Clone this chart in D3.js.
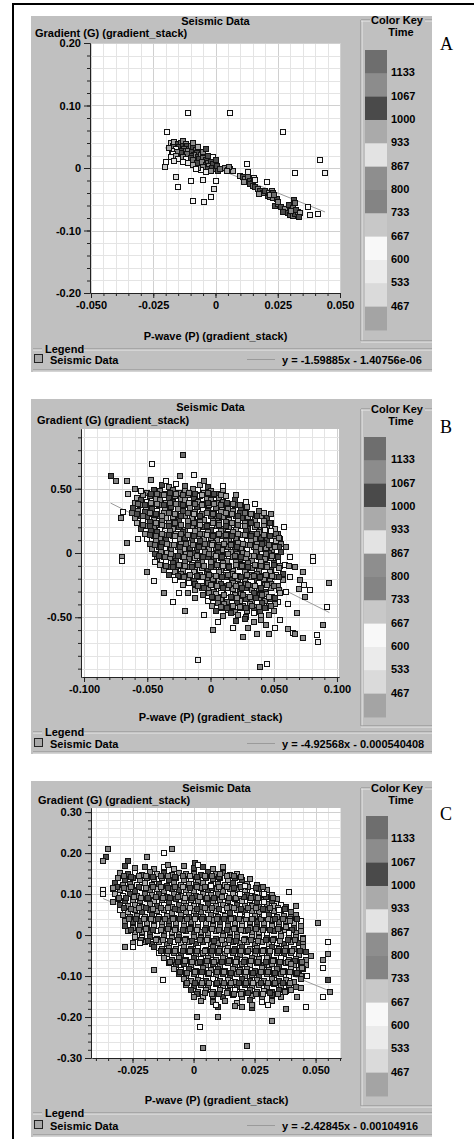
<!DOCTYPE html>
<html>
<head>
<meta charset="utf-8">
<script src="https://cdn.jsdelivr.net/npm/d3@7"></script>
<style>
  html, body { margin: 0; padding: 0; background: #fff; }
  svg { display: block; }
  text { font-family: "Liberation Sans", Arial, sans-serif; font-weight: bold; font-size: 11px; fill: #000; }
  .letter { font-family: "Liberation Serif", "Times New Roman", serif; font-weight: normal; font-size: 18px; }
</style>
</head>
<body>
<svg id="chart" width="476" height="1139"></svg>
<script>
// ── Colour key (Time), top swatch to bottom swatch ───────────
const KEY_COLORS = ['#6e6e6e', '#8c8c8c', '#4a4a4a', '#aaaaaa', '#e3e3e3', '#8e8e8e',
                    '#848484', '#c8c8c8', '#f8f8f8', '#ebebeb', '#dadada', '#a4a4a4'];
const KEY_LABELS = ['1133', '1067', '1000', '933', '867', '800', '733', '667', '600', '533', '467'];

// ── Axis ticks ───────────────────────────────────────────────
const xTicksA = [-0.05, -0.025, 0, 0.025, 0.05];
const xLabelsA = ['-0.050', '-0.025', '0', '0.025', '0.050'];
const yTicksA = [-0.2, -0.1, 0, 0.1, 0.2];
const yLabelsA = ['-0.20', '-0.10', '0', '0.10', '0.20'];

const xTicksB = [-0.1, -0.05, 0, 0.05, 0.1];
const xLabelsB = ['-0.100', '-0.050', '0', '0.050', '0.100'];
const yTicksB = [-0.5, 0, 0.5];
const yLabelsB = ['-0.50', '0', '0.50'];

const xTicksC = [-0.025, 0, 0.025, 0.05];
const xLabelsC = ['-0.025', '0', '0.025', '0.050'];
const yTicksC = [-0.3, -0.2, -0.1, 0, 0.1, 0.2, 0.3];
const yLabelsC = ['-0.30', '-0.20', '-0.10', '0', '0.10', '0.20', '0.30'];

// ── Fitted lines [slope, intercept] ──────────────────────────
const fitA = [-1.59885, -1.40756e-06];
const fitB = [-4.92568, -0.000540408];
const fitC = [-2.42845, -0.00104916];
const eqA = 'y = -1.59885x - 1.40756e-06';
const eqB = 'y = -4.92568x - 0.000540408';
const eqC = 'y = -2.42845x - 0.00104916';

// ── Points: [P, G, key index]; A: P and G in 1e-3 ────────────
const pointsA = [
  [-18,40,7],[-17,36,0],[-16.5,42,3],[-15,38,2],[-14,40,0],[-13,43,6],[-14.5,34,2],[-16,30,8],[-17.5,28,4],[-18.5,32,3],
  [-13,36,2],[-12,39,5],[-11.5,35,2],[-12.5,31,0],[-14,28,2],[-15.5,25,6],[-17,22,8],[-18,18,9],[-16,19,3],[-13.5,24,2],
  [-12,27,0],[-10.5,31,2],[-10,36,6],[-9,33,2],[-11,28,5],[-9.5,26,2],[-8,29,0],[-7.5,24,2],[-8.5,21,6],[-10,20,2],
  [-11.5,22,0],[-13,18,5],[-12,14,8],[-10,16,2],[-9,12,0],[-7,17,2],[-6,21,5],[-6.5,14,2],[-5,16,0],[-4,12,2],
  [-5.5,9,6],[-7.5,8,2],[-9,5,3],[-4,5,2],[-3,8,0],[-2,10,2],[-2.5,3,5],[-1,6,2],[-1.5,0,2],[0,-2,0],
  [-3.5,-1,2],[-5,2,6],[-6,-3,8],[0.5,3,2],[1,-4,2],[2,-1,0],[-2,-5,5],[-4,-6,9],[-7,0,3],[-8,-2,8],
  [-11,8,4],[-13,10,8],[-15,14,9],[-16.5,11,4],[-3,20,2],[-5,26,6],[-7,33,3],[-9,40,5],[-4,30,2],[-1,18,8],[0,13,2],
  [4,0,5],[5,-3,3],[6,-1,5],[7,-4,3],[5.5,2,6],[4.5,-5,3],
  [10,-12,3],[11,-15,2],[12,-18,6],[13,-14,0],[14,-20,2],[11.5,-22,5],[15,-24,2],
  [14,-26,2],[15,-29,0],[16,-31,2],[17,-33,6],[18,-36,2],[19,-40,0],[17.5,-42,5],[20,-37,2],[21,-45,2],[22,-47,0],
  [23,-48,6],[21.5,-40,3],[24.5,-50,2],[22.5,-36,5],[23,-40,2],[22,-43,3],[23.5,-44,0],
  [24,-61,2],[25,-58,0],[26.5,-63,2],[28,-66,5],[29,-72,2],[30,-75,2],[31,-77,0],[32,-73,2],[33,-70,6],[29.5,-60,2],
  [31,-64,0],[32.5,-67,2],[30.5,-69,5],[27,-70,2],[34,-72,3],[33.5,-78,2],[25,-55,6],[31.5,-51,2],[32,-56,0],
  [-11,88,8],[6,88,8],[-19.5,58,8],[27,58,8],[42,13,8],[44,-8,9],[32,-8,8],[37,-62,8],[38,-75,9],[41,-74,8],
  [-16,-15,10],[-15,-31,8],[-10,-21,8],[-5,-19,9],[0,-21,8],[-0.6,-34,10],[-2,-46,8],[-9,-53,8],[-4.6,-54,9],
  [12.7,6,8],[13,-6,9],[20.7,-22,8],[15.5,-16,10],[16,-19,4],[-20,10,8],[-20.3,2,7]
];

// B: P in 1e-3, G in 1e-2
const pointsB = [
  [-38,53,2],[-33,51,5],[-27,54,8],[-20,52,0],[-14,50,6],[-8,53,3],[-2,51,2],
  [-50,47,1],[-45,49,2],[-40,48,6],[-35,46,6],[-30,49,0],[-25,47,1],[-20,48,5],[-15,46,2],[-10,49,8],[-5,47,3],[0,48,6],[5,46,2],[10,49,1],
  [-58,43,3],[-53,45,1],[-48,44,0],[-43,42,5],[-38,45,2],[-33,43,2],[-28,44,6],[-23,42,1],[-18,45,6],[-13,43,2],[-8,44,8],[-3,42,5],[2,45,0],[7,43,6],[12,44,3],
  [-60,39,5],[-55,41,2],[-50,40,8],[-45,38,0],[-40,41,6],[-35,39,3],[-30,40,2],[-25,38,2],[-20,41,5],[-15,39,1],[-10,40,1],[-5,38,2],[0,41,6],[5,39,6],[10,40,0],[15,38,8],[19,41,2],
  [-61,35,2],[-56,37,6],[-51,36,3],[-46,34,2],[-41,37,0],[-36,35,5],[-31,36,2],[-26,34,1],[-21,37,1],[-16,35,6],[-11,36,2],[-6,34,8],[-1,37,5],[4,35,0],[9,36,3],[14,34,6],[19,37,2],[24,35,2],[29,36,5],
  [-62,31,0],[-57,33,6],[-52,32,2],[-47,30,6],[-42,33,8],[-37,31,1],[-32,32,5],[-27,30,2],[-22,33,2],[-17,31,3],[-12,32,6],[-7,30,0],[-2,33,2],[3,31,1],[8,32,5],[13,30,1],[18,33,6],[23,31,2],[28,32,8],[33,30,6],[38,33,0],
  [-60,27,6],[-55,29,2],[-50,28,2],[-45,26,5],[-40,29,0],[-35,27,3],[-30,28,1],[-25,26,2],[-20,29,6],[-15,27,1],[-10,28,8],[-5,26,5],[0,29,2],[5,27,0],[10,28,6],[15,26,3],[20,29,2],[25,27,2],[30,28,5],[35,26,1],[40,29,6],[45,27,2],
  [-58,23,3],[-53,25,8],[-48,24,2],[-43,22,6],[-38,25,0],[-33,23,5],[-28,24,2],[-23,22,2],[-18,25,6],[-13,23,1],[-8,24,6],[-3,22,2],[2,25,1],[7,23,5],[12,24,0],[17,22,8],[22,25,3],[27,23,6],[32,24,2],[37,22,2],[42,25,5],[48,23,1],
  [-55,19,2],[-50,21,6],[-45,20,0],[-40,18,8],[-35,21,3],[-30,19,5],[-25,20,2],[-20,18,1],[-15,21,1],[-10,19,6],[-5,20,2],[0,18,2],[5,21,6],[10,19,0],[15,20,6],[20,18,3],[25,21,8],[30,19,2],[35,20,5],[40,18,1],[45,21,6],[51,19,3],
  [-52,15,5],[-47,17,2],[-42,16,2],[-37,14,0],[-32,17,6],[-27,15,3],[-22,16,2],[-17,14,8],[-12,17,5],[-7,15,1],[-2,16,6],[3,14,2],[8,17,1],[13,15,0],[18,16,6],[23,14,6],[28,17,2],[33,15,2],[38,16,5],[43,14,3],[48,17,8],[53,15,0],
  [-50,11,8],[-45,13,3],[-40,12,6],[-35,10,2],[-30,13,0],[-25,11,5],[-20,12,2],[-15,10,2],[-10,13,6],[-5,11,1],[0,12,6],[5,10,1],[10,13,2],[15,11,5],[20,12,0],[25,10,8],[30,13,3],[35,11,6],[40,12,2],[45,10,2],[50,13,5],[55,11,1],
  [-48,7,0],[-43,9,6],[-38,8,2],[-33,6,5],[-28,9,8],[-23,7,1],[-18,8,3],[-13,6,6],[-8,9,2],[-3,7,2],[2,8,5],[7,6,0],[12,9,6],[17,7,2],[22,8,1],[27,6,6],[32,9,1],[37,7,5],[42,8,2],[47,6,8],[52,9,3],[56,7,6],
  [-46,3,6],[-41,5,2],[-36,4,8],[-31,2,0],[-26,5,5],[-21,3,3],[-16,4,2],[-11,2,2],[-6,5,6],[-1,3,1],[4,4,1],[9,2,5],[14,5,0],[19,3,2],[24,4,6],[29,2,8],[34,5,3],[39,3,5],[44,4,1],[49,2,6],[54,5,2],
  [-44,-1,2],[-39,1,6],[-34,0,3],[-29,-2,2],[-24,1,0],[-19,-1,5],[-14,0,2],[-9,-2,1],[-4,1,6],[1,-1,6],[6,0,2],[11,-2,8],[16,1,5],[21,-1,1],[26,0,6],[31,-2,3],[36,1,0],[41,-1,8],[46,0,2],[51,-2,5],[56,1,2],
  [-42,-5,5],[-37,-3,1],[-32,-4,6],[-27,-6,2],[-22,-3,8],[-17,-5,0],[-12,-4,3],[-7,-6,6],[-2,-3,2],[3,-5,2],[8,-4,5],[13,-6,1],[18,-3,6],[23,-5,2],[28,-4,1],[33,-6,6],[38,-3,0],[43,-5,6],[48,-4,3],[53,-6,8],
  [-40,-9,3],[-35,-7,8],[-30,-8,2],[-25,-10,6],[-20,-7,0],[-15,-9,5],[-10,-8,2],[-5,-10,2],[0,-7,6],[5,-9,1],[10,-8,6],[15,-10,2],[20,-7,1],[25,-9,5],[30,-8,0],[35,-10,8],[40,-7,3],[45,-9,6],[50,-8,2],[55,-10,5],
  [-37,-13,6],[-32,-11,2],[-27,-12,2],[-22,-14,5],[-17,-11,0],[-12,-13,3],[-7,-12,1],[-2,-14,2],[3,-11,6],[8,-13,1],[13,-12,8],[18,-14,5],[23,-11,2],[28,-13,6],[33,-12,0],[38,-14,6],[43,-11,2],[48,-13,2],[54,-12,5],
  [-33,-17,2],[-28,-15,5],[-23,-16,0],[-18,-18,8],[-13,-15,3],[-8,-17,6],[-3,-16,2],[2,-18,2],[7,-15,5],[12,-17,1],[17,-16,6],[22,-18,2],[27,-15,1],[32,-17,6],[37,-16,0],[42,-18,6],[47,-15,3],[52,-17,8],[57,-16,2],
  [-28,-21,6],[-23,-19,1],[-18,-20,5],[-13,-22,2],[-8,-19,8],[-3,-21,0],[2,-20,6],[7,-22,3],[12,-19,2],[17,-21,2],[22,-20,5],[27,-22,1],[32,-19,6],[37,-21,2],[42,-20,1],[47,-22,6],[52,-19,0],[57,-21,5],
  [-22,-25,3],[-17,-23,8],[-12,-24,2],[-7,-26,6],[-2,-23,0],[3,-25,5],[8,-24,2],[13,-26,2],[18,-23,6],[23,-25,1],[28,-24,6],[33,-26,2],[38,-23,8],[43,-25,5],[48,-24,0],[53,-26,6],
  [-12,-29,5],[-7,-27,2],[-2,-28,6],[3,-30,0],[8,-27,8],[13,-29,3],[18,-28,5],[23,-30,2],[28,-27,2],[33,-29,1],[38,-28,6],[43,-30,2],[48,-27,1],[54,-29,6],
  [-6,-33,0],[-1,-31,6],[4,-32,3],[9,-34,2],[14,-31,8],[19,-33,5],[24,-32,1],[29,-34,6],[34,-31,2],[39,-33,2],[44,-32,5],[49,-34,0],[55,-31,3],
  [-2,-37,8],[3,-35,2],[8,-36,6],[13,-38,0],[18,-35,5],[23,-37,3],[28,-36,2],[33,-38,1],[38,-35,1],[43,-37,6],[48,-36,2],[53,-38,8],
  [1,-41,5],[6,-39,0],[11,-40,6],[16,-42,2],[21,-39,2],[26,-41,6],[31,-40,1],[36,-42,6],[41,-39,2],[46,-41,1],[51,-40,5],
  [4,-45,2],[9,-43,8],[14,-44,3],[19,-46,6],[24,-43,0],[29,-45,5],[34,-44,2],[39,-46,2],[44,-43,6],[50,-45,1],
  [10,-49,6],[16,-47,2],[22,-48,5],[28,-50,0],[34,-47,8],[40,-49,3],[46,-48,6],
  [20,-53,2],[27,-51,2],[34,-54,5],[40,-52,1],
  [-47,46,2],[-42,46,0],[-37,45,5],[-32,47,2],[-27,46,1],[-22,45,0],[-17,47,6],[-12,46,2],[-7,45,3],[-2,47,0],[3,46,2],[8,45,5],
  [-57,38,0],[-52,37,2],[-47,39,5],[-42,38,1],[-37,37,2],[-32,39,0],[-27,38,6],[-22,37,2],[-17,39,3],[-12,38,0],[-7,37,5],[-2,39,2],[3,38,1],[8,37,0],[13,39,2],[18,38,6],[23,37,0],
  [-58,30,2],[-53,29,0],[-48,31,6],[-43,30,2],[-38,29,1],[-33,31,0],[-28,30,5],[-23,29,2],[-18,31,0],[-13,30,3],[-8,29,2],[-3,31,6],[2,30,0],[7,29,2],[12,31,1],[17,30,5],[22,29,2],[27,31,0],[32,30,6],[37,29,2],[42,31,3],
  [-53,22,0],[-48,21,2],[-43,23,5],[-38,22,1],[-33,21,2],[-28,23,0],[-23,22,6],[-18,21,2],[-13,23,0],[-8,22,3],[-3,21,2],[2,23,5],[7,22,0],[12,21,2],[17,23,1],[22,22,0],[27,21,6],[32,23,2],[37,22,0],[42,21,5],[47,23,2],
  [-48,14,2],[-43,13,0],[-38,15,6],[-33,14,2],[-28,13,1],[-23,15,0],[-18,14,5],[-13,13,2],[-8,15,0],[-3,14,3],[2,13,2],[7,15,6],[12,14,0],[17,13,2],[22,15,1],[27,14,5],[32,13,2],[37,15,0],[42,14,6],[47,13,2],[52,15,0],
  [-44,6,0],[-39,5,2],[-34,7,5],[-29,6,1],[-24,5,2],[-19,7,0],[-14,6,6],[-9,5,2],[-4,7,0],[1,6,3],[6,5,2],[11,7,5],[16,6,0],[21,5,2],[26,7,1],[31,6,0],[36,5,6],[41,7,2],[46,6,0],[51,5,5],
  [-41,-2,2],[-36,-3,0],[-31,-1,6],[-26,-2,2],[-21,-3,1],[-16,-1,0],[-11,-2,5],[-6,-3,2],[-1,-1,0],[4,-2,3],[9,-3,2],[14,-1,6],[19,-2,0],[24,-3,2],[29,-1,1],[34,-2,5],[39,-3,2],[44,-1,0],[49,-2,6],[53,-3,2],
  [-35,-10,0],[-30,-11,2],[-25,-9,5],[-20,-10,1],[-15,-11,2],[-10,-9,0],[-5,-10,6],[0,-11,2],[5,-9,0],[10,-10,3],[15,-11,2],[20,-9,5],[25,-10,0],[30,-11,2],[35,-9,1],[40,-10,0],[45,-11,6],[50,-9,2],
  [-26,-18,2],[-21,-19,0],[-16,-17,6],[-11,-18,2],[-6,-19,1],[-1,-17,0],[4,-18,5],[9,-19,2],[14,-17,0],[19,-18,3],[24,-19,2],[29,-17,6],[34,-18,0],[39,-19,2],[44,-17,1],[49,-18,5],[54,-19,2],
  [-10,-26,0],[-5,-27,2],[0,-25,5],[5,-26,1],[10,-27,2],[15,-25,0],[20,-26,6],[25,-27,2],[30,-25,0],[35,-26,3],[40,-27,2],[45,-25,5],[50,-26,0],
  [1,-34,2],[6,-35,0],[11,-33,6],[16,-34,2],[21,-35,1],[26,-33,0],[31,-34,5],[36,-35,2],[41,-33,0],[46,-34,3],[51,-35,2],
  [8,-42,0],[13,-43,2],[18,-41,5],[23,-42,1],[28,-43,2],[33,-41,0],[38,-42,6],[43,-43,2],[48,-41,0],
  [-79,60,2],[-75,56,6],[-66,56,5],[-46,69,8],[-22,76,0],[-24,60,6],[-13,61,9],[-47,57,5],[-65,46,3],[-69,32,8],
  [-71,27,5],[-66,8,6],[-57,11,9],[-70,-3,5],[35,38,8],[43,18,9],[54,12,6],[63,-3,8],[81,-3,9],[-70,-6,8],
  [-44,-7,9],[-37,-31,6],[-25,-31,8],[-18,-31,5],[-12,-35,6],[-28,-21,8],[6,-54,8],[-10,-83,9],[26,-65,6],[37,-63,5],
  [39,-89,6],[45,-86,8],[46,-63,5],[51,-58,8],[44,-56,6],[61,-59,5],[65,-62,8],[67,-63,6],[73,-66,5],[84,-64,8],
  [85,-69,9],[89,-56,6],[92,-42,8],[94,-23,5],[75,-34,6],[79,-29,8],[70,-28,5],[74,-25,9],[71,-21,6],[61,-40,8],
  [68,-47,5],[63,-19,9],[67,-11,6],[59,-9,8],[73,-15,5],[81,-6,8],[-60,50,6],[-55,48,9],[-35,56,8],[-5,56,6],
  [10,52,8],[20,45,5],[28,40,9],[48,30,6],[58,20,8],[60,5,6],[62,-10,5],[60,-30,8],[-50,-15,6],[-45,-22,9],
  [-30,-38,8],[-20,-45,5],[-5,-48,9],[2,-60,6],[18,-58,8],[30,-58,6],[55,-52,9]
];

// C: P in 1e-3, G in 1e-3
const pointsC = [
  [-28,168,2],[-24,163,6],[-20,167,0],[-16,162,5],[-12,166,8],[-8,161,3],[-4,168,6],[0,163,2],[4,166,2],[8,161,5],[12,165,1],
  [-30,152,5],[-27,148,2],[-24,151,8],[-21,147,0],[-18,153,6],[-15,149,3],[-12,151,2],[-9,146,1],[-6,152,5],[-3,148,1],[0,150,6],[3,147,2],[6,153,2],[9,149,6],[12,151,0],[15,147,6],[18,150,3],
  [-31,139,6],[-28,135,2],[-25,138,2],[-22,134,5],[-19,140,0],[-16,136,3],[-13,138,1],[-10,134,2],[-7,139,6],[-4,135,1],[-1,137,8],[2,133,5],[5,139,2],[8,136,0],[11,138,6],[14,134,3],[17,139,2],[20,135,2],[23,137,5],
  [-32,126,2],[-29,122,6],[-26,125,0],[-23,121,8],[-20,127,3],[-17,123,5],[-14,125,2],[-11,120,2],[-8,126,6],[-5,122,1],[-2,124,1],[1,121,2],[4,127,5],[7,123,0],[10,125,6],[13,121,3],[16,126,2],[19,122,8],[22,125,5],[26,123,1],
  [-33,113,5],[-30,109,1],[-27,112,6],[-24,108,2],[-21,114,8],[-18,110,0],[-15,112,3],[-12,107,6],[-9,113,2],[-6,109,2],[-3,111,5],[0,108,1],[3,114,6],[6,110,2],[9,112,1],[12,108,6],[15,113,0],[18,109,6],[21,111,3],[24,107,8],[27,112,2],[30,110,5],
  [-32,100,3],[-29,96,8],[-26,99,2],[-23,95,6],[-20,101,0],[-17,97,5],[-14,99,2],[-11,94,2],[-8,100,6],[-5,96,1],[-2,98,6],[1,95,2],[4,101,1],[7,97,5],[10,99,0],[13,95,8],[16,100,3],[19,96,6],[22,98,2],[25,94,2],[28,100,5],[32,97,1],
  [-31,87,6],[-28,83,2],[-25,86,5],[-22,82,0],[-19,88,8],[-16,84,3],[-13,86,6],[-10,81,2],[-7,87,2],[-4,83,5],[-1,85,1],[2,82,6],[5,88,2],[8,84,1],[11,86,6],[14,82,0],[17,87,6],[20,83,3],[23,85,8],[26,81,2],[29,86,5],[32,84,2],[34,88,6],
  [-30,74,2],[-27,70,1],[-24,73,5],[-21,69,1],[-18,75,6],[-15,71,2],[-12,73,8],[-9,68,5],[-6,74,0],[-3,70,6],[0,72,3],[3,69,2],[6,75,2],[9,71,5],[12,73,1],[15,68,6],[18,74,2],[21,70,1],[24,72,6],[27,69,0],[30,75,6],[33,71,3],[36,73,8],[38,69,2],
  [-30,61,8],[-27,57,3],[-24,60,6],[-21,56,2],[-18,62,2],[-15,58,5],[-12,60,1],[-9,55,6],[-6,61,2],[-3,57,1],[0,59,6],[3,56,0],[6,62,6],[9,58,3],[12,60,8],[15,55,2],[18,61,5],[21,57,2],[24,59,6],[27,56,1],[30,62,2],[33,58,1],[36,60,5],[40,57,0],
  [-29,48,5],[-26,44,0],[-23,47,6],[-20,43,3],[-17,49,2],[-14,45,8],[-11,47,5],[-8,42,1],[-5,48,6],[-2,44,2],[1,46,2],[4,43,6],[7,49,0],[10,45,6],[13,47,3],[16,42,2],[19,48,8],[22,44,5],[25,46,1],[28,43,6],[31,49,2],[34,45,1],[37,47,6],[40,43,0],[42,48,6],
  [-28,35,6],[-25,31,2],[-22,34,2],[-19,30,5],[-16,36,1],[-13,32,6],[-10,34,2],[-7,29,1],[-4,35,5],[-1,31,0],[2,33,8],[5,30,3],[8,36,6],[11,32,2],[14,34,2],[17,29,5],[20,35,1],[23,31,6],[26,33,2],[29,30,1],[32,36,6],[35,32,0],[38,34,6],[41,30,3],[44,35,8],
  [-28,22,2],[-25,18,5],[-22,21,0],[-19,17,8],[-16,23,3],[-13,19,6],[-10,21,2],[-7,16,2],[-4,22,6],[-1,18,1],[2,20,6],[5,17,2],[8,23,1],[11,19,5],[14,21,0],[17,16,8],[20,22,3],[23,18,6],[26,20,2],[29,17,2],[32,23,5],[35,19,1],[38,21,6],[41,17,2],[44,22,1],
  [-27,9,5],[-24,5,1],[-21,8,6],[-18,4,2],[-15,10,8],[-12,6,0],[-9,8,3],[-6,3,6],[-3,9,2],[0,5,2],[3,7,5],[6,4,1],[9,10,6],[12,6,2],[15,8,1],[18,3,6],[21,9,0],[24,5,6],[27,7,3],[30,4,8],[33,10,2],[36,6,5],[39,8,2],[42,4,6],[44,9,1],
  [-24,-4,3],[-21,-8,8],[-18,-5,2],[-15,-9,6],[-12,-3,0],[-9,-7,5],[-6,-5,2],[-3,-10,2],[0,-4,6],[3,-8,1],[6,-6,6],[9,-9,2],[12,-3,1],[15,-7,5],[18,-5,0],[21,-10,8],[24,-4,3],[27,-8,6],[30,-6,2],[33,-9,2],[36,-3,5],[39,-7,1],[42,-5,6],[45,-8,2],
  [-20,-17,6],[-17,-21,2],[-14,-18,5],[-11,-22,0],[-8,-16,8],[-5,-20,3],[-2,-18,6],[1,-23,2],[4,-17,2],[7,-21,5],[10,-19,1],[13,-22,6],[16,-16,2],[19,-20,1],[22,-18,6],[25,-23,0],[28,-17,6],[31,-21,3],[34,-19,8],[37,-22,2],[40,-16,5],[43,-20,2],[45,-18,6],
  [-16,-30,2],[-13,-34,1],[-10,-31,5],[-7,-35,1],[-4,-29,6],[-1,-33,2],[2,-31,8],[5,-36,5],[8,-30,0],[11,-34,6],[14,-32,3],[17,-35,2],[20,-29,2],[23,-33,5],[26,-31,1],[29,-36,6],[32,-30,2],[35,-34,1],[38,-32,6],[41,-35,0],[45,-29,6],
  [-14,-43,8],[-11,-47,3],[-8,-44,6],[-5,-48,2],[-2,-42,2],[1,-46,5],[4,-44,1],[7,-49,6],[10,-43,2],[13,-47,1],[16,-45,6],[19,-48,0],[22,-42,6],[25,-46,3],[28,-44,8],[31,-49,2],[34,-43,5],[37,-47,2],[40,-45,6],[43,-48,1],[46,-42,2],
  [-12,-56,5],[-9,-60,0],[-6,-57,6],[-3,-61,3],[0,-55,2],[3,-59,8],[6,-57,5],[9,-62,1],[12,-56,6],[15,-60,2],[18,-58,2],[21,-61,6],[24,-55,0],[27,-59,6],[30,-57,3],[33,-62,2],[36,-56,8],[39,-60,5],[42,-58,1],[46,-61,6],
  [-10,-69,6],[-7,-73,2],[-4,-70,2],[-1,-74,5],[2,-68,1],[5,-72,6],[8,-70,2],[11,-75,1],[14,-69,6],[17,-73,0],[20,-71,6],[23,-74,3],[26,-68,8],[29,-72,2],[32,-70,5],[35,-75,2],[38,-69,6],[41,-73,1],[44,-71,2],[46,-74,1],
  [-8,-82,3],[-5,-86,8],[-2,-83,2],[1,-87,6],[4,-81,0],[7,-85,5],[10,-83,2],[13,-88,2],[16,-82,6],[19,-86,1],[22,-84,6],[25,-87,2],[28,-81,1],[31,-85,5],[34,-83,0],[37,-88,8],[40,-82,3],[43,-86,6],[45,-84,2],
  [-6,-95,2],[-3,-99,5],[0,-96,0],[3,-100,8],[6,-94,3],[9,-98,6],[12,-96,2],[15,-101,2],[18,-95,6],[21,-99,1],[24,-97,6],[27,-100,2],[30,-94,1],[33,-98,5],[36,-96,0],[39,-101,8],[42,-95,3],[44,-99,6],
  [-4,-108,5],[-1,-112,1],[2,-109,6],[5,-113,2],[8,-107,8],[11,-111,0],[14,-109,3],[17,-114,6],[20,-108,2],[23,-112,2],[26,-110,5],[29,-113,1],[32,-107,6],[35,-111,2],[38,-109,1],[41,-114,6],[44,-108,0],
  [-3,-121,6],[0,-125,2],[3,-122,5],[6,-126,0],[9,-120,8],[12,-124,3],[15,-122,6],[18,-127,2],[21,-121,2],[24,-125,5],[27,-123,1],[30,-126,6],[33,-120,2],[36,-124,1],[39,-122,6],[42,-126,0],
  [-1,-134,2],[2,-138,1],[5,-135,5],[8,-139,1],[11,-133,6],[14,-137,2],[17,-135,8],[20,-140,5],[23,-134,0],[26,-138,6],[29,-136,3],[32,-139,2],[35,-133,2],[38,-137,5],[40,-135,1],
  [0,-147,8],[4,-151,3],[8,-148,6],[12,-152,2],[16,-146,2],[20,-150,5],[24,-148,1],[28,-153,6],[32,-147,2],[36,-151,1],
  [3,-160,5],[8,-164,0],[13,-161,6],[18,-165,3],[23,-159,2],[28,-163,8],[32,-161,5],
  [10,-176,2],[17,-173,6],[24,-177,2],
  [-28.5,143,0],[-25.5,142,2],[-22.5,144,5],[-19.5,143,1],[-16.5,142,2],[-13.5,144,0],[-10.5,143,6],[-7.5,142,2],[-4.5,144,0],[-1.5,143,3],[1.5,142,2],[4.5,144,5],[7.5,143,0],[10.5,142,2],[13.5,144,1],[16.5,143,0],[19.5,142,6],
  [-31.5,117,2],[-28.5,116,0],[-25.5,118,6],[-22.5,117,2],[-19.5,116,1],[-16.5,118,0],[-13.5,117,5],[-10.5,116,2],[-7.5,118,0],[-4.5,117,3],[-1.5,116,2],[1.5,118,6],[4.5,117,0],[7.5,116,2],[10.5,118,1],[13.5,117,5],[16.5,116,2],[19.5,118,0],[22.5,117,6],[25.5,116,2],[28.5,118,0],
  [-30.5,91,0],[-27.5,90,2],[-24.5,92,5],[-21.5,91,1],[-18.5,90,2],[-15.5,92,0],[-12.5,91,6],[-9.5,90,2],[-6.5,92,0],[-3.5,91,3],[-0.5,90,2],[2.5,92,5],[5.5,91,0],[8.5,90,2],[11.5,92,1],[14.5,91,0],[17.5,90,6],[20.5,92,2],[23.5,91,0],[26.5,90,5],[29.5,92,2],[32.5,91,0],
  [-28.5,65,2],[-25.5,64,0],[-22.5,66,6],[-19.5,65,2],[-16.5,64,1],[-13.5,66,0],[-10.5,65,5],[-7.5,64,2],[-4.5,66,0],[-1.5,65,3],[1.5,64,2],[4.5,66,6],[7.5,65,0],[10.5,64,2],[13.5,66,1],[16.5,65,5],[19.5,64,2],[22.5,66,0],[25.5,65,6],[28.5,64,2],[31.5,66,0],[34.5,65,3],[37.5,64,2],
  [-26.5,39,0],[-23.5,38,2],[-20.5,40,5],[-17.5,39,1],[-14.5,38,2],[-11.5,40,0],[-8.5,39,6],[-5.5,38,2],[-2.5,40,0],[0.5,39,3],[3.5,38,2],[6.5,40,5],[9.5,39,0],[12.5,38,2],[15.5,40,1],[18.5,39,0],[21.5,38,6],[24.5,40,2],[27.5,39,0],[30.5,38,5],[33.5,40,2],[36.5,39,0],[39.5,38,6],[42.5,40,2],
  [-25.5,13,2],[-22.5,12,0],[-19.5,14,6],[-16.5,13,2],[-13.5,12,1],[-10.5,14,0],[-7.5,13,5],[-4.5,12,2],[-1.5,14,0],[1.5,13,3],[4.5,12,2],[7.5,14,6],[10.5,13,0],[13.5,12,2],[16.5,14,1],[19.5,13,5],[22.5,12,2],[25.5,14,0],[28.5,13,6],[31.5,12,2],[34.5,14,0],[37.5,13,3],[40.5,12,2],
  [-21.5,-13,0],[-18.5,-14,2],[-15.5,-12,5],[-12.5,-13,1],[-9.5,-14,2],[-6.5,-12,0],[-3.5,-13,6],[-0.5,-14,2],[2.5,-12,0],[5.5,-13,3],[8.5,-14,2],[11.5,-12,5],[14.5,-13,0],[17.5,-14,2],[20.5,-12,1],[23.5,-13,0],[26.5,-14,6],[29.5,-12,2],[32.5,-13,0],[35.5,-14,5],[38.5,-12,2],[41.5,-13,0],
  [-13.5,-39,2],[-10.5,-40,0],[-7.5,-38,6],[-4.5,-39,2],[-1.5,-40,1],[1.5,-38,0],[4.5,-39,5],[7.5,-40,2],[10.5,-38,0],[13.5,-39,3],[16.5,-40,2],[19.5,-38,6],[22.5,-39,0],[25.5,-40,2],[28.5,-38,1],[31.5,-39,5],[34.5,-40,2],[37.5,-38,0],[40.5,-39,6],[43.5,-40,2],
  [-9.5,-65,0],[-6.5,-66,2],[-3.5,-64,5],[-0.5,-65,1],[2.5,-66,2],[5.5,-64,0],[8.5,-65,6],[11.5,-66,2],[14.5,-64,0],[17.5,-65,3],[20.5,-66,2],[23.5,-64,5],[26.5,-65,0],[29.5,-66,2],[32.5,-64,1],[35.5,-65,0],[38.5,-66,6],[41.5,-64,2],[44.5,-65,0],
  [-5.5,-91,2],[-2.5,-92,0],[0.5,-90,6],[3.5,-91,2],[6.5,-92,1],[9.5,-90,0],[12.5,-91,5],[15.5,-92,2],[18.5,-90,0],[21.5,-91,3],[24.5,-92,2],[27.5,-90,6],[30.5,-91,0],[33.5,-92,2],[36.5,-90,1],[39.5,-91,5],[42.5,-92,2],
  [-2.5,-117,0],[0.5,-118,2],[3.5,-116,5],[6.5,-117,1],[9.5,-118,2],[12.5,-116,0],[15.5,-117,6],[18.5,-118,2],[21.5,-116,0],[24.5,-117,3],[27.5,-118,2],[30.5,-116,5],[33.5,-117,0],[36.5,-118,2],[39.5,-116,1],
  [1.5,-143,2],[4.5,-142,0],[7.5,-144,6],[10.5,-143,2],[13.5,-142,1],[16.5,-144,0],[19.5,-143,5],[22.5,-142,2],[25.5,-144,0],[28.5,-143,3],[31.5,-142,2],[34.5,-144,6],
  [-35,210,6],[-36,190,2],[-37,180,5],[-27,180,2],[-19,190,6],[-12,200,8],[-9,210,5],[-10.5,170,6],[0.6,175,2],[2,170,8],
  [11,150,6],[-37,110,8],[-37,100,9],[-33,115,5],[-33,80,6],[7,120,8],[21,120,9],[19,100,8],[29,100,8],[29,80,9],
  [29,50,8],[39,105,9],[42,70,6],[35,60,8],[22,50,9],[24,40,6],[-28,-30,6],[-25,-20,5],[-25,-30,8],[-22,-20,9],
  [-16,-85,5],[-12.5,-110,8],[0,-150,6],[1.3,-200,5],[2.7,-225,8],[4,-275,6],[10,-200,5],[9,-170,8],[22,-270,6],[32,-210,5],
  [20,-175,6],[24,-170,5],[30.6,-170,8],[38,-180,6],[42.5,-150,5],[46,-175,8],[37.5,-140,6],[44,-130,5],[53,-150,8],[56,-140,6],
  [55,-110,2],[53,-80,8],[53,-60,6],[55,-46,5],[55,-17,8],[51,30,6],[45,-10,5],[48,-50,6],[46.5,-100,8],[44.5,-80,5],
  [40,-70,6],[39,5,8],[39.5,34,6],[38,20,5]
];

// ── Layout of the three stacked panels (pixels) ──────────────
const PANELS = [
  { letter: 'A', top: 16, bottom: 372, l: 91, r: 340, t: 43, b: 293,
    xDomain: [-0.05, 0.05], yDomain: [-0.2, 0.2], xMinor: 0.005, yMinor: 0.02,
    xTicks: xTicksA, xLabels: xLabelsA, yTicks: yTicksA, yLabels: yLabelsA,
    points: pointsA, xu: 0.001, yu: 0.001, fit: fitA, eq: eqA,
    titleY: 25, yLabelY: 37, yLabelX: 35, xLabelY: 340, legendY: 353, rowY: 364,
    keyTop: 20, keyBottom: 341, swatchTop: 50, swatchX: 365, letterY: 50 },
  { letter: 'B', top: 399, bottom: 754, l: 82, r: 339, t: 429, b: 677,
    xDomain: [-0.1016, 0.1016], yDomain: [-0.965, 0.965], xMinor: 0.01, yMinor: 0.1,
    xTicks: xTicksB, xLabels: xLabelsB, yTicks: yTicksB, yLabels: yLabelsB,
    points: pointsB, xu: 0.001, yu: 0.01, fit: fitB, eq: eqB,
    titleY: 411, yLabelY: 424, yLabelX: 37, xLabelY: 721, legendY: 736, rowY: 748,
    keyTop: 409, keyBottom: 726, swatchTop: 437, swatchX: 364, letterY: 433 },
  { letter: 'C', top: 781, bottom: 1137, l: 92, r: 341, t: 808, b: 1058,
    xDomain: [-0.0416, 0.0604], yDomain: [-0.3, 0.31], xMinor: 0.005, yMinor: 0.02,
    xTicks: xTicksC, xLabels: xLabelsC, yTicks: yTicksC, yLabels: yLabelsC,
    points: pointsC, xu: 0.001, yu: 0.001, fit: fitC, eq: eqC,
    titleY: 792, yLabelY: 804, yLabelX: 38, xLabelY: 1104, legendY: 1117, rowY: 1130,
    keyTop: 788, keyBottom: 1106, swatchTop: 816, swatchX: 366, letterY: 820 }
];

const PANEL_L = 31, PANEL_R = 432;
const SW_H = 23.33, SW_W = 22;

const svg = d3.select('#chart');

// outer page frame (top + left edges)
svg.append('path')
  .attr('d', 'M13,1139V4H474')
  .attr('fill', 'none').attr('stroke', '#000').attr('stroke-width', 2);

function stepValues(domain, step) {
  const i0 = Math.ceil(domain[0] / step - 1e-6), i1 = Math.floor(domain[1] / step + 1e-6);
  return d3.range(i0, i1 + 1).map(i => +(i * step).toFixed(6));
}

function etched(g, x1, x2, y1, y2) {
  const h = y1 === y2;
  g.append('line').attr('x1', x1).attr('x2', x2).attr('y1', y1).attr('y2', y2)
    .attr('stroke', '#8c8c8c').attr('stroke-width', 1);
  g.append('line').attr('x1', x1 + (h ? 0 : 1)).attr('x2', x2 + (h ? 0 : 1))
    .attr('y1', y1 + (h ? 1 : 0)).attr('y2', y2 + (h ? 1 : 0))
    .attr('stroke', '#e8e8e8').attr('stroke-width', 1);
}

function drawPanel(p) {
  const g = svg.append('g');

  g.append('rect')
    .attr('x', PANEL_L).attr('y', p.top)
    .attr('width', PANEL_R - PANEL_L).attr('height', p.bottom - p.top)
    .attr('fill', '#c0c0c0');

  const x = d3.scaleLinear().domain(p.xDomain).range([p.l, p.r]);
  const y = d3.scaleLinear().domain(p.yDomain).range([p.b, p.t]);

  // plot area + grid
  g.append('rect')
    .attr('x', p.l).attr('y', p.t).attr('width', p.r - p.l).attr('height', p.b - p.t)
    .attr('fill', '#fff');

  const xs = stepValues(p.xDomain, p.xMinor);
  const ys = stepValues(p.yDomain, p.yMinor);
  const isMajor = (v, ticks) => ticks.some(t => Math.abs(t - v) < 1e-9);

  g.append('g').selectAll('line').data(xs).join('line')
    .attr('x1', d => Math.round(x(d)) + 0.5).attr('x2', d => Math.round(x(d)) + 0.5)
    .attr('y1', p.t).attr('y2', p.b)
    .attr('stroke', d => isMajor(d, p.xTicks) ? '#d0d0d0' : '#e4e4e4');
  g.append('g').selectAll('line').data(ys).join('line')
    .attr('y1', d => Math.round(y(d)) + 0.5).attr('y2', d => Math.round(y(d)) + 0.5)
    .attr('x1', p.l).attr('x2', p.r)
    .attr('stroke', d => isMajor(d, p.yTicks) ? '#d0d0d0' : '#e4e4e4');

  // fitted line across the data extent
  const ext = d3.extent(p.points, d => d[0] * p.xu);
  const f = v => p.fit[0] * v + p.fit[1];
  g.append('line')
    .attr('x1', x(ext[0])).attr('y1', y(f(ext[0])))
    .attr('x2', x(ext[1])).attr('y2', y(f(ext[1])))
    .attr('stroke', '#9a9a9a').attr('stroke-width', 1);

  // points
  g.append('g').selectAll('rect').data(p.points).join('rect')
    .attr('x', d => Math.round(x(d[0] * p.xu)) - 2.5)
    .attr('y', d => Math.round(y(d[1] * p.yu)) - 2.5)
    .attr('width', 5).attr('height', 5)
    .attr('fill', d => KEY_COLORS[d[2]])
    .attr('stroke', '#111').attr('stroke-width', 1);

  // axes
  const styleAxis = sel => {
    sel.selectAll('path, line').attr('stroke', '#222');
    sel.attr('font-size', null).attr('font-family', null);
  };
  g.append('g').attr('transform', `translate(0,${p.b})`)
    .call(d3.axisBottom(x).tickValues(xs).tickSize(3).tickSizeOuter(0).tickFormat(''))
    .call(styleAxis);
  g.append('g').attr('transform', `translate(0,${p.b})`)
    .call(d3.axisBottom(x).tickValues(p.xTicks).tickSize(5).tickSizeOuter(0)
      .tickFormat((d, i) => p.xLabels[i]))
    .call(styleAxis);
  g.append('g').attr('transform', `translate(${p.l - 1},0)`)
    .call(d3.axisLeft(y).tickValues(ys).tickSize(3).tickSizeOuter(0).tickFormat(''))
    .call(styleAxis);
  g.append('g').attr('transform', `translate(${p.l - 1},0)`)
    .call(d3.axisLeft(y).tickValues(p.yTicks).tickSize(6).tickSizeOuter(0)
      .tickFormat((d, i) => p.yLabels[i]))
    .call(styleAxis);

  // titles
  const cx = (p.l + p.r) / 2;
  g.append('text').attr('x', cx).attr('y', p.titleY).attr('text-anchor', 'middle').text('Seismic Data');
  g.append('text').attr('x', p.yLabelX).attr('y', p.yLabelY).text('Gradient (G) (gradient_stack)');
  g.append('text').attr('x', cx).attr('y', p.xLabelY).attr('text-anchor', 'middle').text('P-wave (P) (gradient_stack)');

  // colour key
  const kx = 361;
  etched(g, kx, kx, p.keyTop, p.keyBottom);
  etched(g, kx, 370, p.keyTop, p.keyTop);
  etched(g, 425, PANEL_R, p.keyTop, p.keyTop);
  etched(g, kx, PANEL_R, p.keyBottom, p.keyBottom);
  g.append('text').attr('x', 397).attr('y', p.keyTop + 4).attr('text-anchor', 'middle').text('Color Key');
  g.append('text').attr('x', 401).attr('y', p.keyTop + 16).attr('text-anchor', 'middle').text('Time');
  g.append('g').selectAll('rect').data(KEY_COLORS).join('rect')
    .attr('x', p.swatchX).attr('y', (d, i) => p.swatchTop + i * SW_H)
    .attr('width', SW_W).attr('height', SW_H + 0.5)
    .attr('fill', d => d);
  g.append('g').selectAll('text').data(KEY_LABELS).join('text')
    .attr('x', 391).attr('y', (d, i) => p.swatchTop + (i + 1) * SW_H + 3)
    .text(d => d);

  // legend strip
  const ly = p.legendY - 4;
  etched(g, 33, 42, ly, ly);
  etched(g, 84, PANEL_R, ly, ly);
  etched(g, 33, PANEL_R, p.bottom - 2, p.bottom - 2);
  g.append('text').attr('x', 45).attr('y', p.legendY).text('Legend');
  g.append('rect').attr('x', 34.5).attr('y', p.rowY - 9.5).attr('width', 8).attr('height', 8)
    .attr('fill', '#a8a8a8').attr('stroke', '#222');
  g.append('text').attr('x', 50).attr('y', p.rowY).text('Seismic Data');
  g.append('line').attr('x1', 247).attr('x2', 275).attr('y1', p.rowY - 4.5).attr('y2', p.rowY - 4.5)
    .attr('stroke', '#9a9a9a');
  g.append('text').attr('x', 282).attr('y', p.rowY).text(p.eq);

  // panel letter
  svg.append('text').attr('class', 'letter').attr('x', 440).attr('y', p.letterY).text(p.letter);
}

PANELS.forEach(drawPanel);

// clip equation text to the panel edge
svg.append('rect').attr('x', PANEL_R).attr('y', 340).attr('width', 40).attr('height', 40).attr('fill', '#fff');
</script>
</body>
</html>
